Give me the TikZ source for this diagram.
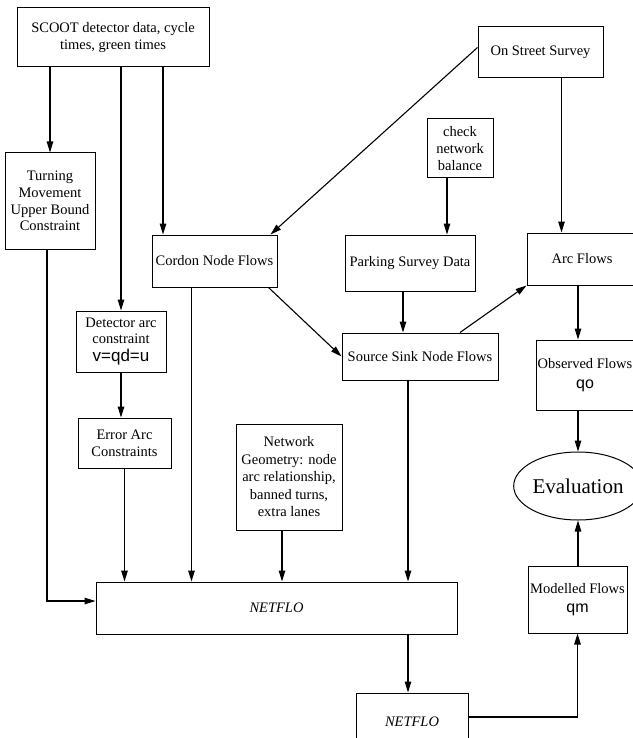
\documentclass[tikz,border=0pt]{standalone}
\usepackage{fontspec}
\setmainfont{Liberation Serif}
\setsansfont{Liberation Sans}
\usetikzlibrary{arrows.meta,shapes,calc}

\begin{document}
\begin{tikzpicture}[x=1pt,y=-1pt,>={Triangle[length=11pt,width=6.5pt]},box/.style={draw,line width=1pt,inner sep=0pt,align=center,font=\fontsize{14.5}{16.7}\selectfont},lnk/.style={->,line width=1.1pt}]
  \useasboundingbox (0,0) rectangle (632,738);
  \node[box,minimum width=192pt,minimum height=59pt] (scoot) at (113,37.5) {SCOOT detector data, cycle\\times, green times};
  \node[box,minimum width=90pt,minimum height=96pt] (turn) at (50,201) {Turning\\Movement\\Upper Bound\\Constraint};
  \node[box,minimum width=125pt,minimum height=52pt] (cordon) at (214.5,261) {Cordon Node Flows};
  \node[box,minimum width=125pt,minimum height=51pt] (oss) at (540.5,52.5) {On Street Survey};
  \node[box,minimum width=66pt,minimum height=59pt] (check) at (460,148.5) {check\\network\\balance};
  \node[box,minimum width=130pt,minimum height=56pt] (park) at (410,263) {Parking Survey Data};
  \node[box,minimum width=110pt,minimum height=52pt] (arc) at (582,259) {Arc Flows};
  \node[box,minimum width=90pt,minimum height=61pt] (det) at (121,341.5) {Detector arc\\constraint\\[1pt]{\sffamily\fontsize{17}{17}\selectfont v=qd=u}};
  \node[box,minimum width=93pt,minimum height=50pt] (err) at (124.5,443) {Error Arc\\Constraints};
  \node[box,minimum width=156pt,minimum height=47pt] (ssnf) at (420,356.5) {Source Sink Node Flows};
  \node[box,minimum width=98pt,minimum height=70pt] (obs) at (585,375) {Observed Flows\\[3pt]{\sffamily\fontsize{16}{16}\selectfont qo}};
  \node[box,ellipse,minimum width=95pt,minimum height=68pt,font=\fontsize{21}{21}\selectfont] (eval) at (578,486) {Evaluation};
  \node[box,minimum width=106pt,minimum height=106pt,font=\fontsize{14.5}{17.5}\selectfont] (geo) at (289,477) {Network\\Geometry: node\\arc relationship,\\banned turns,\\extra lanes};
  \node[box,minimum width=361pt,minimum height=52pt] (net) at (276.5,608) {\textit{NETFLO}};
  \node[box,minimum width=112pt,minimum height=58pt] (net2) at (412,722) {\textit{NETFLO}};
  \node[box,minimum width=99pt,minimum height=67pt] (mod) at (577.5,599.5) {Modelled Flows\\[3pt]{\sffamily\fontsize{16}{16}\selectfont qm}};

  \draw[lnk] (turn.north |- scoot.south) -- (turn.north);
  \draw[lnk] (det.north |- scoot.south) -- (det.north);
  \draw[lnk] ([xshift=50pt]scoot.south) -- ([xshift=50pt]scoot.south |- cordon.north);
  \draw[lnk] ([yshift=5pt]oss.west) -- ([xshift=-7pt]cordon.north east);
  \draw[lnk] ([xshift=21pt]oss.south) -- ([xshift=21pt]oss.south |- arc.north);
  \draw[lnk] ([xshift=-13pt]check.south) -- ([xshift=-13pt]check.south |- park.north);
  \draw[lnk] ([xshift=-7pt]park.south) -- ([xshift=-7pt]park.south |- ssnf.north);
  \draw[lnk] ([xshift=40pt]ssnf.north) -- (arc.south west);
  \draw[lnk] ([xshift=-9pt]cordon.south east) -- (ssnf.west);
  \draw[lnk] ([xshift=-3pt]turn.south) |- ([yshift=7pt]net.west);
  \draw[lnk] (det.south) -- (det.south |- err.north);
  \draw[lnk] (err.south) -- (err.south |- net.north);
  \draw[lnk] ([xshift=-23pt]cordon.south) -- ([xshift=-23pt]cordon.south |- net.north);
  \draw[lnk] ([xshift=-7pt]geo.south) -- ([xshift=-7pt]geo.south |- net.north);
  \draw[lnk] ([xshift=-12pt]ssnf.south) -- ([xshift=-12pt]ssnf.south |- net.north);
  \draw[lnk] ([xshift=-4pt]arc.south) -- ([xshift=-4pt]arc.south |- obs.north);
  \draw[lnk] (eval.north |- obs.south) -- (eval.north);
  \draw[lnk] (eval.south |- mod.north) -- (eval.south);
  \draw[lnk] ([xshift=-4pt]net2.north |- net.south) -- ([xshift=-4pt]net2.north);
  \draw[lnk] ([yshift=5pt]net2.east) -| (mod.south);
\end{tikzpicture}
\end{document}
